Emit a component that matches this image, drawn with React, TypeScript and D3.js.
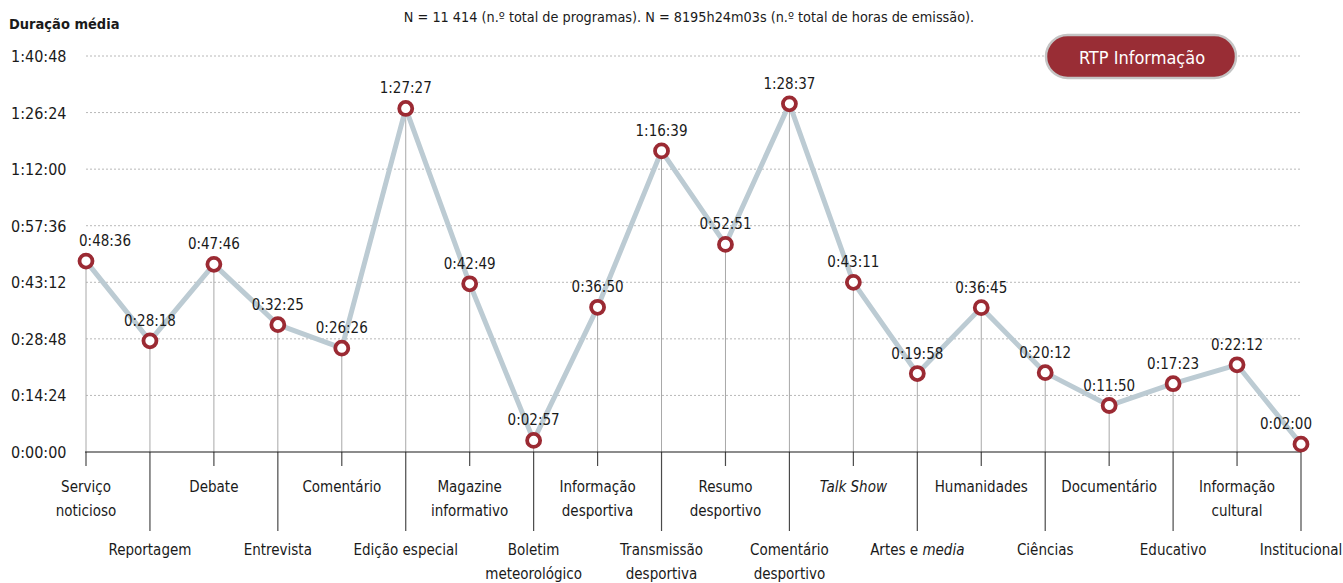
import React, { useRef, useEffect } from 'react';
import * as d3 from 'd3';

// categories: each entry is a list of label lines; italic parts marked with *...*
const categories = [
  'Serviço noticioso', 'Reportagem', 'Debate', 'Entrevista', 'Comentário',
  'Edição especial', 'Magazine informativo', 'Boletim meteorológico', 'Informação desportiva',
  'Transmissão desportiva', 'Resumo desportivo', 'Comentário desportivo', 'Talk Show',
  'Artes e media', 'Humanidades', 'Ciências', 'Documentário', 'Educativo',
  'Informação cultural', 'Institucional'
];

const categoryLines = [
  ['Serviço', 'noticioso'], ['Reportagem'], ['Debate'], ['Entrevista'], ['Comentário'],
  ['Edição especial'], ['Magazine', 'informativo'], ['Boletim', 'meteorológico'], ['Informação', 'desportiva'],
  ['Transmissão', 'desportiva'], ['Resumo', 'desportivo'], ['Comentário', 'desportivo'], ['*Talk Show*'],
  ['Artes e *media*'], ['Humanidades'], ['Ciências'], ['Documentário'], ['Educativo'],
  ['Informação', 'cultural'], ['Institucional']
];

const durationLabels = [
  '0:48:36', '0:28:18', '0:47:46', '0:32:25', '0:26:26',
  '1:27:27', '0:42:49', '0:02:57', '0:36:50', '1:16:39',
  '0:52:51', '1:28:37', '0:43:11', '0:19:58', '0:36:45',
  '0:20:12', '0:11:50', '0:17:23', '0:22:12', '0:02:00'
];

const yTickLabels = ['0:00:00', '0:14:24', '0:28:48', '0:43:12', '0:57:36', '1:12:00', '1:26:24', '1:40:48'];

const toSeconds = (s: string) => {
  const [h, m, sec] = s.split(':').map(Number);
  return h * 3600 + m * 60 + sec;
};

const FONT = '"Liberation Sans Narrow", "DejaVu Sans Condensed", "Roboto", sans-serif';

const App = () => {
  const svgRef = useRef<SVGSVGElement>(null);

  useEffect(() => {
    const svg = d3.select(svgRef.current);
    svg.selectAll('*').remove();

    const width = 1343;
    const height = 583;
    svg.attr('width', width).attr('height', height);

    const values = durationLabels.map(toSeconds);
    const ticks = yTickLabels.map(toSeconds);
    const last = values.length - 1;

    const x = d3.scalePoint<string>().domain(categories).range([86, 1301]);
    const y = d3.scaleLinear().domain([0, d3.max(ticks) as number]).range([452, 56]);

    const g = svg.append('g').style('font-family', FONT);

    // gridlines
    g.selectAll('.grid')
      .data(ticks.slice(1))
      .enter().append('line')
      .attr('x1', 86).attr('x2', 1300)
      .attr('y1', d => y(d)).attr('y2', d => y(d))
      .attr('stroke', '#b8b8b8')
      .attr('stroke-width', 1)
      .attr('stroke-dasharray', '2,2');

    // y tick labels
    g.selectAll('.ytick')
      .data(ticks)
      .enter().append('text')
      .attr('x', 11)
      .attr('y', d => y(d) + 6)
      .style('font-size', '16px')
      .style('fill', '#1a1a1a')
      .text((d, i) => yTickLabels[i]);

    // title & subtitle
    g.append('text')
      .attr('x', 9).attr('y', 29)
      .style('font-size', '14.5px')
      .style('font-weight', 'bold')
      .style('fill', '#1a1a1a')
      .text('Duração média');

    g.append('text')
      .attr('x', 689).attr('y', 22)
      .attr('text-anchor', 'middle')
      .style('font-size', '14.3px')
      .style('fill', '#1a1a1a')
      .text('N = 11 414 (n.º total de programas). N = 8195h24m03s (n.º total de horas de emissão).');

    // badge
    const badge = g.append('g');
    badge.append('rect')
      .attr('x', 1046).attr('y', 35)
      .attr('width', 190).attr('height', 43)
      .attr('rx', 21.5)
      .attr('fill', '#992d35')
      .attr('stroke', '#c4c4c4')
      .attr('stroke-width', 2.5);
    badge.append('text')
      .attr('x', 1142).attr('y', 64)
      .attr('text-anchor', 'middle')
      .style('font-size', '18px')
      .style('fill', '#ffffff')
      .text('RTP Informação');

    // drop lines above axis
    g.selectAll('.drop')
      .data(values)
      .enter().append('line')
      .attr('x1', (d, i) => x(categories[i]) as number)
      .attr('x2', (d, i) => x(categories[i]) as number)
      .attr('y1', d => y(d)).attr('y2', 452)
      .attr('stroke', '#a8a8a8')
      .attr('stroke-width', 1);

    // ticks below axis
    g.selectAll('.tick')
      .data(categories)
      .enter().append('line')
      .attr('x1', d => x(d) as number).attr('x2', d => x(d) as number)
      .attr('y1', 452).attr('y2', (d, i) => (i % 2 === 0 ? 466 : 531))
      .attr('stroke', '#4a4a4a')
      .attr('stroke-width', 1.2);

    // axis line
    g.append('line')
      .attr('x1', 85).attr('x2', 1301)
      .attr('y1', 452).attr('y2', 452)
      .attr('stroke', '#1a1a1a')
      .attr('stroke-width', 1.2);

    // category labels
    categoryLines.forEach((lines, i) => {
      const baseY = i % 2 === 0 ? 492 : 555;
      lines.forEach((line, j) => {
        const t = g.append('text')
          .attr('x', x(categories[i]) as number)
          .attr('y', baseY + j * 24)
          .attr('text-anchor', 'middle')
          .style('font-size', '15px')
          .style('fill', '#1a1a1a');
        line.split('*').forEach((part, k) => {
          if (!part) return;
          t.append('tspan')
            .style('font-style', k % 2 === 1 ? 'italic' : 'normal')
            .text(part);
        });
      });
    });

    // line
    const line = d3.line<number>()
      .x((d, i) => x(categories[i]) as number)
      .y(d => y(d));

    g.append('path')
      .datum(values)
      .attr('d', line)
      .attr('fill', 'none')
      .attr('stroke', '#bccbd3')
      .attr('stroke-width', 5)
      .attr('stroke-linejoin', 'round');

    // points
    g.selectAll('.point')
      .data(values)
      .enter().append('circle')
      .attr('cx', (d, i) => x(categories[i]) as number)
      .attr('cy', d => y(d))
      .attr('r', 6.5)
      .attr('fill', '#ffffff')
      .attr('stroke', '#9b2a33')
      .attr('stroke-width', 3.8);

    // value labels (first and last nudged inward)
    g.selectAll('.vlabel')
      .data(values)
      .enter().append('text')
      .attr('x', (d, i) => {
        const cx = x(categories[i]) as number;
        if (i === 0) return cx - 7;
        if (i === last) return cx + 11;
        return cx;
      })
      .attr('y', d => y(d) - 15)
      .attr('text-anchor', (d, i) => (i === 0 ? 'start' : i === last ? 'end' : 'middle'))
      .style('font-size', '15px')
      .style('fill', '#1a1a1a')
      .text((d, i) => durationLabels[i]);
  }, []);

  return (
    <div style={{ position: 'absolute', left: 0, top: 0, background: '#ffffff' }}>
      <svg ref={svgRef} style={{ display: 'block' }} />
    </div>
  );
};

export default App;
